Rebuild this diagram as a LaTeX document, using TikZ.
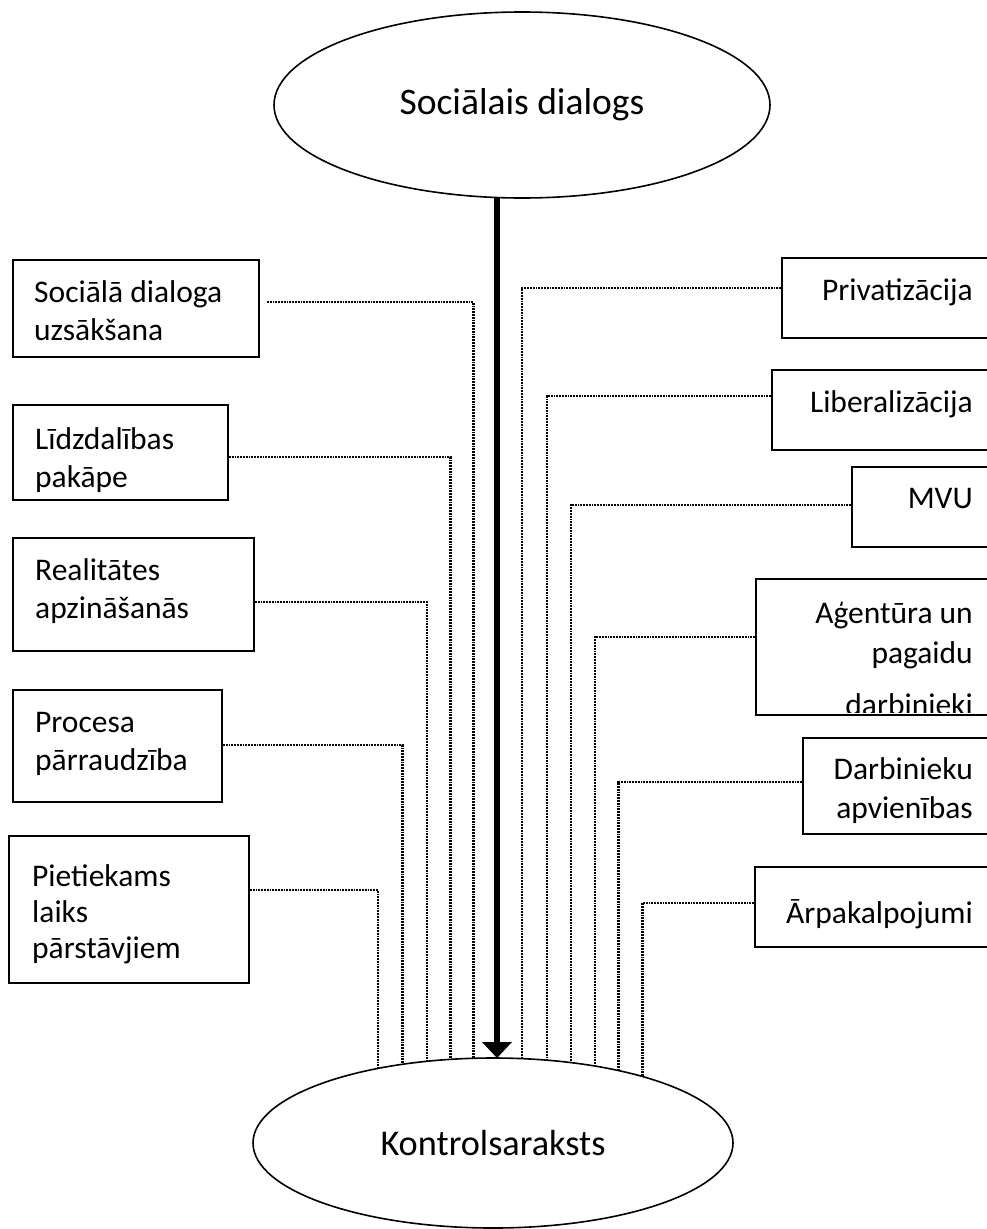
\documentclass[tikz,border=0pt]{standalone}
\usepackage{fontspec}
\setmainfont{Carlito}
\usetikzlibrary{arrows.meta,shapes.geometric}

\begin{document}
\begin{tikzpicture}[x=1pt,y=-1pt,
  box/.style={draw=black, line width=1.6pt, rectangle, inner sep=0pt, outer sep=0pt, anchor=north west},
  oval/.style={draw=black, line width=1.6pt, ellipse, inner sep=0pt, outer sep=0pt},
  ltext/.style={anchor=base west, align=flush left, text width=250pt, inner sep=0pt, font=\fontsize{31.5}{38}\selectfont},
  rtext/.style={anchor=base east, align=flush right, text width=250pt, inner sep=0pt, font=\fontsize{31.5}{38}\selectfont},
  link/.style={draw=black, line width=2.3pt, dash pattern=on 1.8pt off 1pt},
  mainarrow/.style={draw=black, line width=6.5pt, -{Triangle[length=16pt,width=29pt]}}
]
\useasboundingbox (0,0) rectangle (987,1229);
\clip (0,0) rectangle (987,1229);

% the two ovals
\node[oval, font=\fontsize{37.5}{40}\selectfont, minimum width=496pt, minimum height=186pt] (top) at (522,105) {Sociālais dialogs};
\node[oval, font=\fontsize{36.3}{40}\selectfont, minimum width=480pt, minimum height=170pt] (bot) at (493,1143) {Kontrolsaraksts};

% main arrow
\coordinate (ax) at (497,0);
\draw[mainarrow] (ax |- top.south) -- (ax |- bot.north);

% left column
\node[box, minimum width=246pt, minimum height=97pt]  (l1) at (13,260) {};
\node[box, minimum width=215pt, minimum height=95pt]  (l2) at (13,405) {};
\node[box, minimum width=241pt, minimum height=113pt] (l3) at (13,538) {};
\node[box, minimum width=209pt, minimum height=112pt] (l4) at (13,690) {};
\node[box, minimum width=240pt, minimum height=147pt] (l5) at (9,836) {};

\node[ltext] (tl1) at (34,302) {Sociālā dialoga\\uzsākšana};
\node[ltext] (tl2) at (35,449) {Līdzdalības\\pakāpe};
\node[ltext] (tl3) at (35,580) {Realitātes\\apzināšanās};
\node[ltext] (tl4) at (35,732) {Procesa\\pārraudzība};
\node[ltext, font=\fontsize{31.5}{36}\selectfont] (tl5) at (32,886) {Pietiekams\\laiks\\pārstāvjiem};

% right column (boxes run past the right edge)
\node[box, minimum width=218pt, minimum height=80pt]  (r1) at (782,258) {};
\node[box, minimum width=228pt, minimum height=80pt]  (r2) at (772,370) {};
\node[box, minimum width=148pt, minimum height=80pt]  (r3) at (852,467) {};
\node[box, minimum width=244pt, minimum height=136pt] (r4) at (756,579) {};
\node[box, minimum width=197pt, minimum height=96pt]  (r5) at (803,738) {};
\node[box, minimum width=245pt, minimum height=80pt]  (r6) at (755,867) {};

\node[rtext] (tr1) at (973,300) {Privatizācija};
\node[rtext] (tr2) at (973,412) {Liberalizācija};
\node[rtext] (tr3) at (973,508) {MVU};
\begin{scope}
  % the last line runs into the bottom edge of its box
  \clip (r4.north west) rectangle ([shift={(0,-3)}]r4.south east);
  \node[rtext, font=\fontsize{31.5}{40}\selectfont] (tr4) at (973,623) {Aģentūra un\\pagaidu\\[12pt]darbinieki};
\end{scope}
\node[rtext, font=\fontsize{31.5}{39}\selectfont] (tr5) at (973,779) {Darbinieku\\apvienības};
\node[rtext] (tr6) at (973,923) {Ārpakalpojumi};

% dotted feeders into the lower oval
\draw[link] ([shift={(8,42)}]l1.north east) -| (bot.103.3);
\draw[link] ([shift={(1,52)}]l2.north east) -| (bot.117.8);
\draw[link] ([shift={(1,64)}]l3.north east) -| (bot.129.8);
\draw[link] ([shift={(1,55)}]l4.north east) -| (bot.139.5);
\draw[link] ([shift={(1,54)}]l5.north east) -| (bot.147.0);

\draw[link] ([shift={(-1,30)}]r1.north west) -| (bot.71.0);
\draw[link] ([shift={(-1,26)}]r2.north west) -| (bot.57.9);
\draw[link] ([shift={(-1,38)}]r3.north west) -| (bot.46.7);
\draw[link] ([shift={(-1,58)}]r4.north west) -| (bot.37.4);
\draw[link] ([shift={(-1,44)}]r5.north west) -| (bot.30.1);
\draw[link] ([shift={(-1,36)}]r6.north west) -| (bot.24.1);
\end{tikzpicture}
\end{document}
